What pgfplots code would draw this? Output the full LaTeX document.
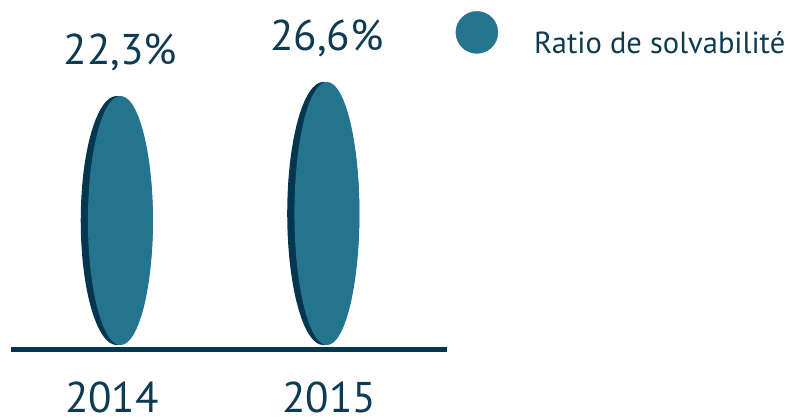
\documentclass[border=0pt]{standalone}
\usepackage{pgfplots}
\usepackage{pgfplotstable}
\pgfplotsset{compat=1.18}
\usepackage{fontspec}
\setmainfont{PT Sans}
\definecolor{teal1}{HTML}{24748F}
\definecolor{dark1}{HTML}{05364F}
\definecolor{txt}{HTML}{0D3B52}
\pgfdeclareplotmark{lens}{%
  \pgfmathsetlengthmacro\hh{(\val+54.2)*3.256pt/2}%
  \pgfpathellipse{\pgfpoint{-3.7pt}{-\hh}}{\pgfpoint{36pt}{0pt}}{\pgfpoint{0pt}{\hh}}%
  \pgfsetfillcolor{dark1}\pgfusepath{fill}%
  \pgfpathellipse{\pgfpoint{0pt}{-\hh}}{\pgfpoint{32.5pt}{0pt}}{\pgfpoint{0pt}{\hh}}%
  \pgfsetfillcolor{teal1}\pgfusepath{fill}%
}
\pgfplotstableread{
x v
0 22.3
1 26.6
}\datatable
\begin{document}
\begin{tikzpicture}
\useasboundingbox (0,0) rectangle (790pt,419pt);
\begin{axis}[
  at={(11pt,69.5pt)}, anchor=south west,
  scale only axis, width=435.7pt, height=349.5pt,
  xmin=-0.530, xmax=1.580, ymin=-55.56, ymax=51.78,
  axis x line*=bottom, axis y line=none,
  x axis line style={line width=5pt, draw=dark1, -},
  xtick={-0.041,1.010}, xticklabels={2014,2015},
  major tick length=0pt,
  xticklabel style={font=\fontsize{43}{50}\selectfont, text=txt, anchor=base,
    inner sep=0pt, text depth=0pt, yshift=-63.5pt},
  ytick=\empty,
  clip=false,
  legend style={draw=none, fill=none, at={(1.0206,0.9056)}, anchor=west,
    inner sep=0pt, outer sep=0pt, font=\fontsize{30.5}{36}\selectfont, text=txt,
    column sep=36pt, nodes={inner sep=0pt}},
  legend image code/.code={\fill[teal1] (21pt,10.65pt) circle (21pt);},
  /pgf/number format/fixed, /pgf/number format/fixed zerofill,
  /pgf/number format/precision=1, /pgf/number format/use comma,
  /pgf/number format/assume math mode=true,
]
\addplot[only marks, mark=lens,
  visualization depends on={\thisrow{v} \as \val},
  point meta=\thisrow{v},
  nodes near coords={\pgfmathprintnumber{\pgfplotspointmeta}\%},
  every node near coord/.append style={font=\fontsize{43}{50}\selectfont, text=txt, anchor=base, yshift=31.5pt},
] table[x=x, y=v] {\datatable};
\addlegendentry{Ratio de solvabilité}
\end{axis}
\end{tikzpicture}
\end{document}
